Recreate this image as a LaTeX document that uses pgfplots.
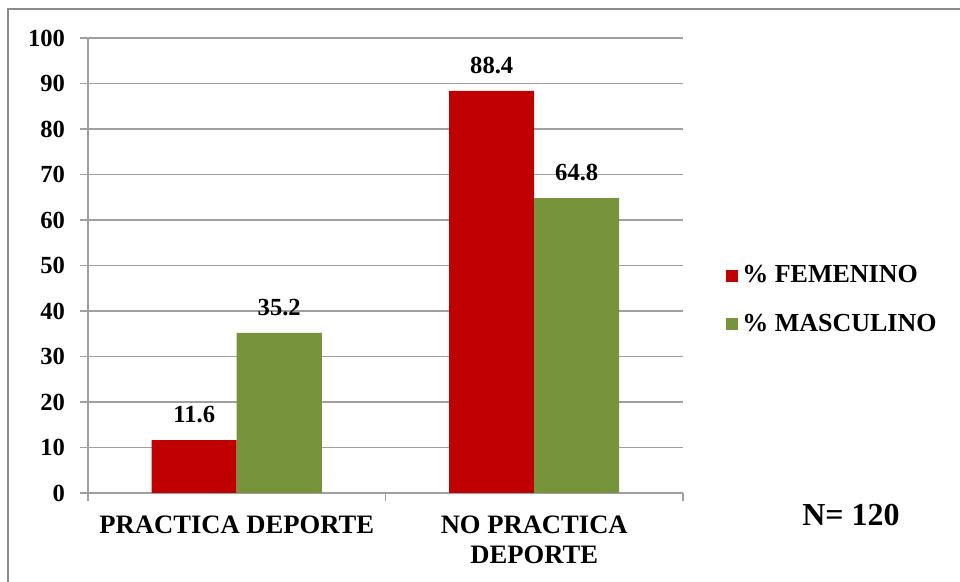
\documentclass[border=0pt]{standalone}
\usepackage{pgfplots}
\pgfplotsset{compat=1.18}
\usepackage{fontspec}
\setmainfont{Liberation Serif}
\definecolor{fem}{HTML}{C00000}
\definecolor{mas}{HTML}{77933C}
\definecolor{gridc}{HTML}{A0A0A0}
\definecolor{framec}{HTML}{8C8C8C}
\begin{document}
\begin{tikzpicture}
\useasboundingbox (0,0) rectangle (480pt,291pt);
\draw[color=framec, line width=1.3pt] (4pt,0) -- (4pt,286.5pt) -- (480pt,286.5pt);
\begin{axis}[
  at={(44pt,44.5pt)}, anchor=south west,
  scale only axis, width=297.5pt, height=227.5pt,
  ymin=0, ymax=100, ytick={0,10,...,100},
  xmin=-0.5, xmax=1.5,
  xtick={-0.5,0.5,1.5}, xticklabels={},
  extra x ticks={0,1},
  extra x tick labels={PRACTICA DEPORTE, NO PRACTICA\\DEPORTE},
  extra x tick style={major tick length=0pt, grid=none,
     tick label style={font=\fontsize{13.3}{15}\selectfont\bfseries, align=center, yshift=-8pt}},
  axis lines*=left,
  axis line style={gridc, line width=0.7pt},
  ymajorgrids, grid style={gridc, line width=0.7pt},
  major tick length=4pt, tick align=outside, tick style={gridc, line width=0.7pt},
  yticklabel style={font=\fontsize{12.3}{13.5}\selectfont\bfseries, xshift=-4pt},
  /pgf/number format/assume math mode=true,
  ybar=0pt, bar width=42.5pt,
  nodes near coords,
  nodes near coords style={font=\fontsize{12.3}{13.5}\selectfont\bfseries, yshift=5pt, /pgf/number format/fixed, /pgf/number format/precision=1},
  legend style={at={(1.062,0.4244)}, anchor=west, draw=none, fill=none,
     font=\fontsize{13}{14}\selectfont\bfseries, row sep=10pt,
     /tikz/every even column/.append style={column sep=0pt}},
  legend cell align=left,
  legend image code/.code={\fill[#1,draw=none] (-2pt,-3pt) rectangle (4pt,3pt);},
]
\addplot[fill=fem, draw=none] coordinates {(0,11.6) (1,88.4)};
\addplot[fill=mas, draw=none] coordinates {(0,35.2) (1,64.8)};
\legend{\% FEMENINO, \% MASCULINO}
\end{axis}
\node[font=\fontsize{16}{18}\selectfont\bfseries] at (425.5pt,33.5pt) {N= 120};
\end{tikzpicture}
\end{document}
